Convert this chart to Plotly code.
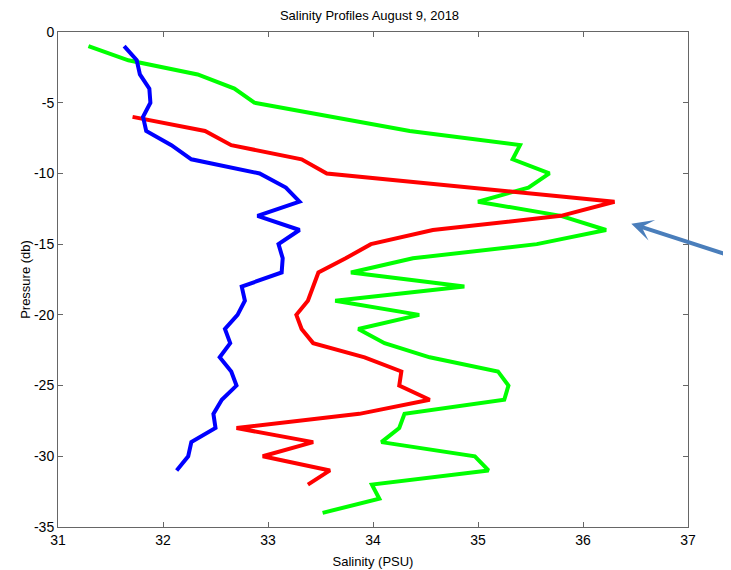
import plotly.graph_objects as go

# pressure levels (db) for each cast
blue_pressure = [-1, -2, -3, -4, -5, -6, -7, -8, -9, -10, -11, -12, -13, -14, -15, -16, -17,
                 -18, -19, -20, -21, -22, -23, -24, -25, -26, -27, -28, -29, -30, -31]
blue_salinity = [31.63, 31.75, 31.78, 31.87, 31.88, 31.81, 31.84, 32.08, 32.27, 32.92, 33.17, 33.30,
                 32.90, 33.30, 33.10, 33.14, 33.13, 32.75, 32.78, 32.71, 32.59, 32.64, 32.54, 32.65,
                 32.70, 32.56, 32.48, 32.50, 32.27, 32.24, 32.13]

red_pressure = [-6, -7, -8, -9, -10, -11, -12, -13, -14, -15, -16, -17, -18, -19, -20, -21, -22,
                -23, -24, -25, -26, -27, -28, -29, -30, -31, -32]
red_salinity = [31.71, 32.40, 32.65, 33.32, 33.56, 34.93, 36.30, 35.79, 34.57, 33.98, 33.74, 33.48,
                33.43, 33.38, 33.27, 33.32, 33.43, 33.92, 34.27, 34.25, 34.54, 33.87, 32.70, 33.43,
                32.95, 33.59, 33.38]

green_pressure = [-1, -2, -3, -4, -5, -6, -7, -8, -9, -10, -11, -12, -13, -14, -15, -16, -17,
                  -18, -19, -20, -21, -22, -23, -24, -25, -26, -27, -28, -29, -30, -31, -32, -33, -34]
green_salinity = [31.29, 31.67, 32.33, 32.68, 32.87, 33.62, 34.35, 35.40, 35.33, 35.68, 35.48, 35.00,
                  35.79, 36.22, 35.56, 34.38, 33.79, 34.87, 33.64, 34.44, 33.86, 34.11, 34.54, 35.19,
                  35.29, 35.25, 34.30, 34.25, 34.08, 34.97, 35.10, 33.99, 34.06, 33.52]

x_ticks = [31, 32, 33, 34, 35, 36, 37]
y_ticks = [0, -5, -10, -15, -20, -25, -30, -35]
y_tick_text = ["0", "-5", "-10", "-15", "-20", "-25", "-30", "-35"]

FONT = "Liberation Sans, Arial, sans-serif"

fig = go.Figure()
for sal, pres, color in [
    (green_salinity, green_pressure, "#00FF00"),
    (red_salinity, red_pressure, "#FF0000"),
    (blue_salinity, blue_pressure, "#0000FF"),
]:
    fig.add_trace(go.Scatter(x=sal, y=pres, mode="lines", line={"color": color, "width": 4}, showlegend=False))

fig.add_annotation(
    x=36.46, y=-13.55, ax=99, ay=32, axref="pixel", ayref="pixel",
    text="", showarrow=True, arrowhead=3, arrowsize=0.9, arrowwidth=4, arrowcolor="#4a7ebb",
)

axis_style = {
    "showgrid": False,
    "zeroline": False,
    "showline": True,
    "linecolor": "#666666",
    "linewidth": 1,
    "mirror": "ticks",
    "ticks": "inside",
    "ticklen": 5,
    "tickcolor": "#666666",
    "tickfont": {"size": 14, "color": "#000000"},
    "automargin": False,
}

# page body has an 8px margin, so the figure is drawn 8px smaller to fit the window
fig.update_layout(
    width=723,
    height=562,
    template="none",
    paper_bgcolor="white",
    plot_bgcolor="white",
    font={"family": FONT, "color": "#000000"},
    margin={"l": 50, "r": 43, "t": 24, "b": 43},
    title={"text": "Salinity Profiles August 9, 2018", "x": 0.5, "xanchor": "center",
           "y": 0.986, "yanchor": "middle", "font": {"size": 13}},
    xaxis={**axis_style, "range": [31, 37], "tickvals": x_ticks,
           "title": {"text": "Salinity (PSU)", "font": {"size": 13}, "standoff": 10}},
    yaxis={**axis_style, "range": [-35, 0], "tickvals": y_ticks, "ticktext": y_tick_text,
           "title": {"text": "Pressure (db)", "font": {"size": 13}, "standoff": 0}},
)

fig.write_html("out.html")
